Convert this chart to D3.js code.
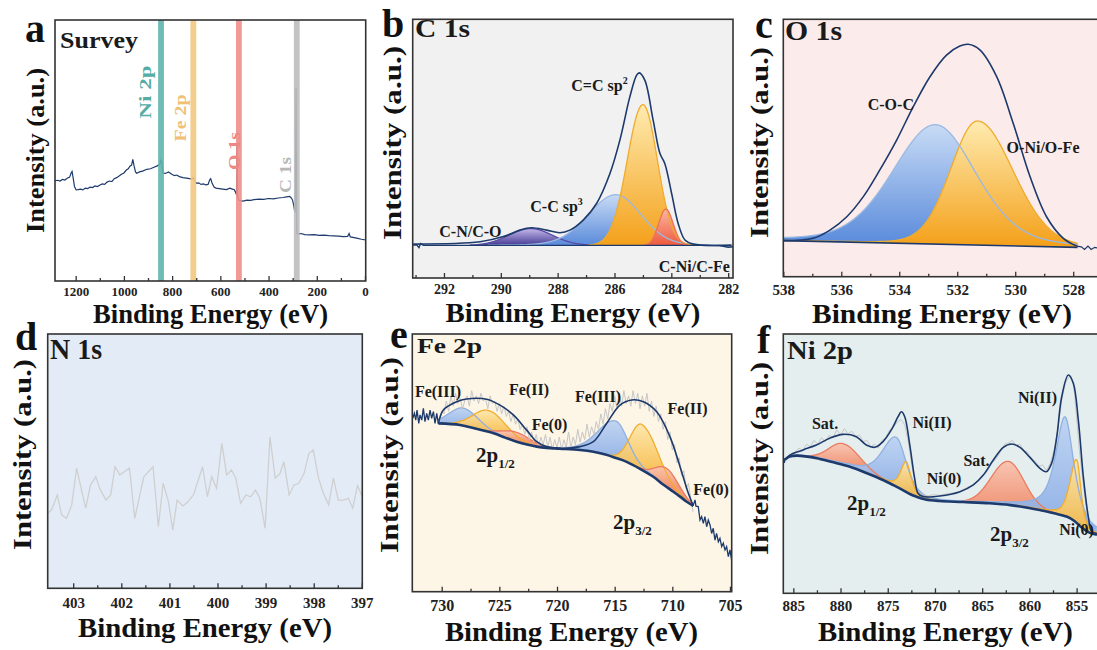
<!DOCTYPE html>
<html>
<head>
<meta charset="utf-8">
<title>XPS spectra</title>
<script src="https://cdn.jsdelivr.net/npm/d3@7/dist/d3.min.js"></script>
<style>
  html,body{margin:0;padding:0;background:#fff;}
  svg{display:block;}
</style>
</head>
<body>
<svg id="fig" width="1097" height="650"></svg>
<script>
// ---------- (a) survey spectrum: [binding energy eV, normalised intensity] ----------
const surveyTicks = [1200, 1000, 800, 600, 400, 200, 0];
const surveyMinor = [1100, 900, 700, 500, 300, 100];
const surveyScan = [
  [1286,0.384],[1275,0.386],[1265,0.383],[1255,0.389],[1245,0.387],[1235,0.394],[1225,0.398],[1219,0.414],
  [1215,0.420],[1210,0.392],[1205,0.362],[1198,0.349],[1190,0.350],[1180,0.352],[1170,0.349],[1160,0.356],
  [1150,0.354],[1140,0.360],[1130,0.358],[1120,0.364],[1110,0.362],[1099,0.368],[1090,0.372],[1080,0.370],
  [1070,0.379],[1060,0.383],[1050,0.381],[1040,0.392],[1030,0.396],[1020,0.402],[1010,0.409],[1000,0.414],
  [990,0.425],[982,0.430],[975,0.440],[968,0.444],[963,0.466],[958,0.442],[952,0.418],[947,0.413],
  [935,0.418],[920,0.422],[905,0.428],[890,0.430],[875,0.436],[862,0.441],[852,0.446],[847,0.462],
  [843,0.455],[838,0.414],[828,0.412],[815,0.418],[800,0.408],[790,0.404],[781,0.406],[770,0.400],
  [755,0.396],[740,0.394],[728,0.392],[718,0.390],[712,0.396],[706,0.382],[698,0.374],[690,0.376],
  [680,0.370],[670,0.372],[660,0.368],[651,0.370],[644,0.388],[640,0.392],[634,0.374],[626,0.360],
  [618,0.356],[605,0.354],[590,0.352],[575,0.350],[560,0.356],[550,0.352],[542,0.350],[536,0.338],
  [533,0.330],[531,0.521],[529,0.325],[525,0.312],[520,0.308],[505,0.306],[490,0.310],[475,0.309],
  [460,0.312],[440,0.314],[420,0.313],[400,0.316],[380,0.315],[360,0.318],[340,0.320],[325,0.322],
  [312,0.324],[305,0.318],[300,0.308],[296,0.292],[292,0.270],[289,0.262],[286,0.741],[283,0.184],
  [278,0.180],[265,0.182],[250,0.178],[230,0.177],[210,0.178],[190,0.175],[170,0.176],[150,0.174],
  [130,0.173],[110,0.172],[90,0.170],[72,0.171],[66,0.182],[61,0.169],[45,0.166],[30,0.163],
  [15,0.160],[-3,0.157]
];
const surveyLines = ["Ni 2p", "Fe 2p", "O 1s", "C 1s"];
const surveyLineEnergy = [846, 712, 523, 283];
const surveyLabelEnergy = [912, 767, 543, 330];
const surveyLabelLevel = [0.724, 0.625, 0.498, 0.406];

// ---------- (b) C 1s ----------
// fitted peaks: [centre eV, height, FWHM high-BE side, FWHM low-BE side, Lorentzian fraction]
const c1sTicks = [292, 290, 288, 286, 284, 282];
const c1sMinor = [293, 291, 289, 287, 285, 283];
const c1sBackground = [
  [293.1,0.127],[292.95,0.127],[292.88,0.117],[292.82,0.133],[292.72,0.126],[290,0.126],
  [286,0.126],[283,0.126],[282.3,0.125],[282.0,0.119],[281.8,0.121]
];
const c1sEnvelope = [
  [293.08,0.131],[290.73,0.140],[289.91,0.160],[289.33,0.185],[288.92,0.194],[288.39,0.185],
  [287.92,0.175],[287.57,0.185],[287.10,0.224],[286.63,0.288],[286.16,0.404],[285.81,0.533],
  [285.46,0.700],[285.22,0.784],[285.13,0.793],[284.93,0.764],[284.64,0.610],[284.40,0.481],
  [284.23,0.443],[283.99,0.327],[283.76,0.211],[283.52,0.147],[283.23,0.131],[281.88,0.127]
];
const c1sNames = ["C-N/C-O", "C-C sp^3", "C=C sp^2", "C-Ni/C-Fe"];
const c1sPeaks = [
  [288.95, 0.065, 1.8, 1.8, 0],
  [285.95, 0.196, 2.3, 2.1, 0.1],
  [285.00, 0.544, 1.3, 1.2, 0],
  [284.19, 0.140, 0.6, 0.6, 0]
];
const c1sLabelAt = [[291.07,0.158],[288.04,0.255],[286.53,0.722],[283.19,0.022]];

// ---------- (c) O 1s ----------
const o1sTicks = [538, 536, 534, 532, 530, 528];
const o1sMinor = [537, 535, 533, 531, 529];
const o1sBackground = [[538,0.140],[527.85,0.114]];
const o1sEnvelope = [
  [538.0,0.140],[536.97,0.149],[536.39,0.181],[535.81,0.233],[535.24,0.311],[534.67,0.415],
  [534.09,0.531],[533.52,0.660],[532.94,0.777],[532.37,0.861],[531.91,0.896],[531.62,0.903],
  [531.22,0.881],[530.64,0.777],[530.07,0.596],[529.49,0.389],[528.92,0.233],[528.34,0.149],
  [527.88,0.119]
];
const o1sTail = [[527.88,0.119],[527.72,0.116],[527.61,0.106],[527.49,0.119],[527.38,0.106],[527.26,0.114],[527.12,0.110]];
const o1sNames = ["C-O-C", "O-Ni/O-Fe"];
const o1sPeaks = [
  [532.75, 0.464, 3.5, 3.3, 0.25],
  [531.30, 0.482, 2.2, 2.9, 0.1]
];
const o1sLabelAt = [[534.29,0.647],[529.04,0.481]];

// ---------- (d) N 1s ----------
const n1sTicks = [403, 402, 401, 400, 399, 398, 397];
const n1sMinor = [402.5, 401.5, 400.5, 399.5, 398.5, 397.5];
const n1sScan = [
  [403.53,0.295],[403.45,0.308],[403.33,0.367],[403.24,0.288],[403.14,0.275],[403.03,0.328],
  [402.93,0.472],[402.74,0.315],[402.64,0.406],[402.53,0.439],[402.45,0.393],[402.32,0.347],
  [402.22,0.367],[402.13,0.478],[402.03,0.446],[401.83,0.472],[401.72,0.275],[401.53,0.439],
  [401.34,0.478],[401.23,0.242],[401.13,0.413],[401.02,0.341],[400.93,0.229],[400.84,0.347],
  [400.72,0.324],[400.61,0.341],[400.50,0.367],[400.31,0.478],[400.21,0.360],[400.12,0.439],
  [400.02,0.393],[399.91,0.570],[399.81,0.446],[399.71,0.465],[399.62,0.433],[399.52,0.334],
  [399.41,0.367],[399.31,0.360],[399.21,0.387],[399.12,0.354],[399.01,0.236],[398.91,0.596],
  [398.80,0.433],[398.70,0.452],[398.62,0.498],[398.51,0.367],[398.41,0.406],[398.31,0.413],
  [398.20,0.452],[398.10,0.531],[398.01,0.544],[397.90,0.433],[397.80,0.374],[397.69,0.328],
  [397.59,0.433],[397.49,0.347],[397.38,0.347],[397.28,0.354],[397.19,0.315],[397.09,0.404],
  [396.99,0.360]
];

// ---------- (e) Fe 2p ----------
const fe2pTicks = [730, 725, 720, 715, 710, 705];
const fe2pMinor = [727.5, 722.5, 717.5, 712.5, 707.5];
const fe2pBackground = [
  [730.29,0.653],[728.4,0.647],[727.0,0.632],[725.5,0.615],[724.5,0.598],[723.5,0.582],
  [722.5,0.570],[721.76,0.563],[720.9,0.558],[719.74,0.555],[718.0,0.550],[716.85,0.543],
  [715.8,0.532],[714.9,0.519],[713.96,0.504],[712.8,0.477],[711.65,0.446],[710.8,0.416],
  [709.91,0.388],[709.3,0.368],[708.75,0.349],[708.18,0.333]
];
const fe2pEnvelope = [
  [730.29,0.653],[729.86,0.705],[729.0,0.731],[728.2,0.745],[727.4,0.750],[726.1,0.747],
  [724.94,0.724],[723.79,0.686],[722.63,0.627],[721.76,0.582],[720.9,0.563],[719.74,0.556],
  [718.0,0.563],[716.85,0.582],[715.7,0.653],[714.54,0.724],[713.52,0.744],[712.51,0.737],
  [711.35,0.698],[710.2,0.601],[709.33,0.485],[708.61,0.382],[708.18,0.333]
];
const fe2pRaw = [
  [730.2,0.66],[730.0,0.70],[729.8,0.69],[729.6,0.74],[729.4,0.70],[729.2,0.76],[729.0,0.72],[728.8,0.77],
  [728.6,0.73],[728.4,0.75],[728.2,0.71],[728.0,0.74],[727.8,0.76],[727.6,0.72],[727.4,0.78],[727.2,0.74],
  [727.0,0.76],[726.8,0.73],[726.6,0.77],[726.4,0.74],[726.2,0.75],[726.0,0.71],[725.8,0.76],[725.6,0.73],
  [725.4,0.74],[725.2,0.70],[725.0,0.73],[724.8,0.69],[724.6,0.72],[724.4,0.68],[724.2,0.70],[724.0,0.66],
  [723.8,0.69],[723.6,0.65],[723.4,0.67],[723.2,0.63],[723.0,0.65],[722.8,0.61],[722.6,0.64],[722.4,0.59],
  [722.2,0.62],[722.0,0.58],[721.8,0.61],[721.6,0.56],[721.4,0.60],[721.2,0.57],[721.0,0.61],[720.8,0.56],
  [720.6,0.60],[720.4,0.55],[720.2,0.59],[720.0,0.56],[719.8,0.60],[719.6,0.55],[719.4,0.59],[719.2,0.56],
  [719.0,0.62],[718.8,0.56],[718.6,0.60],[718.4,0.57],[718.2,0.63],[718.0,0.58],[717.8,0.62],[717.6,0.59],
  [717.4,0.65],[717.2,0.60],[717.0,0.64],[716.8,0.61],[716.6,0.66],[716.4,0.63],[716.2,0.69],[716.0,0.65],
  [715.8,0.71],[715.6,0.67],[715.4,0.73],[715.2,0.70],[715.0,0.76],[714.8,0.71],[714.6,0.77],[714.4,0.72],
  [714.2,0.78],[714.0,0.73],[713.8,0.76],[713.6,0.72],[713.4,0.78],[713.2,0.73],[713.0,0.77],[712.8,0.71],
  [712.6,0.76],[712.4,0.72],[712.2,0.77],[712.0,0.70],[711.8,0.74],[711.6,0.68],[711.4,0.72],[711.2,0.66],
  [711.0,0.69],[710.8,0.63],[710.6,0.66],[710.4,0.59],[710.2,0.62],[710.0,0.55],[709.8,0.57],[709.6,0.50],
  [709.4,0.52],[709.2,0.45],[709.0,0.47],[708.8,0.40],[708.6,0.42],[708.4,0.36],[708.2,0.31]
];
const fe2pScanHigh = [
  [732.51,0.673],[732.37,0.692],[732.25,0.666],[732.14,0.705],[731.99,0.653],[731.88,0.686],
  [731.73,0.666],[731.59,0.712],[731.45,0.660],[731.30,0.692],[731.16,0.666],[731.01,0.705],
  [730.87,0.673],[730.72,0.699],[730.58,0.653],[730.43,0.692],[730.29,0.651]
];
const fe2pScanLow = [
  [708.18,0.336],[708.03,0.356],[707.95,0.332],[707.75,0.330],[707.60,0.278],[707.46,0.291],
  [707.31,0.265],[707.17,0.291],[707.02,0.252],[706.88,0.278],[706.73,0.259],[706.59,0.226],
  [706.45,0.246],[706.30,0.200],[706.16,0.226],[706.01,0.194],[705.87,0.207],[705.72,0.175],
  [705.58,0.188],[705.43,0.162],[705.29,0.175],[705.14,0.136],[705.00,0.162],[704.86,0.123]
];
const fe2pNames = ["Fe(III)", "Fe(II)", "Fe(0)", "Fe(III)", "Fe(II)", "Fe(0)"];
const fe2pPeaks = [
  [728.10, 0.068, 3.0, 3.0, 0],
  [725.96, 0.083, 3.1, 3.6, 0],
  [723.55, 0.036, 2.8, 3.0, 0],
  [714.88, 0.143, 3.6, 2.4, 0.2],
  [712.65, 0.176, 2.3, 3.3, 0],
  [710.49, 0.072, 2.2, 2.4, 0]
];
const fe2pLabelAt = [[730.32,0.756],[722.43,0.763],[720.65,0.627],[716.44,0.736],[708.68,0.690],[706.64,0.375]];
const fe2pLevels = ["2p_1/2", "2p_3/2"];
const fe2pLevelAt = [[727.03,0.503],[715.14,0.244]];

// ---------- (f) Ni 2p ----------
const ni2pTicks = [885, 880, 875, 870, 865, 860, 855];
const ni2pMinor = [882.5, 877.5, 872.5, 867.5, 862.5, 857.5, 852.5];
const ni2pBackground = [
  [885.9,0.515],[885.4,0.527],[884.6,0.531],[883.5,0.527],[882.5,0.521],[881.0,0.507],[879.0,0.488],
  [877.2,0.463],[875.5,0.437],[874.4,0.417],[873.4,0.398],[872.6,0.382],[872.0,0.373],[871.0,0.362],
  [869.5,0.356],[867.0,0.352],[864.2,0.347],[862.0,0.340],[860.5,0.332],[858.9,0.321],[857.5,0.310],
  [856.0,0.295],[855.2,0.278],[854.6,0.258],[853.6,0.233],[852.85,0.226]
];
const ni2pEnvelope = [
  [885.9,0.515],[885.38,0.533],[883.97,0.553],[882.56,0.572],[881.15,0.598],[879.74,0.613],[878.33,0.604],
  [877.27,0.572],[876.38,0.563],[875.5,0.585],[874.62,0.630],[873.91,0.681],[873.56,0.700],[873.2,0.681],
  [872.67,0.572],[872.15,0.443],[871.8,0.386],[871.27,0.373],[869.47,0.375],[867.35,0.392],[865.94,0.418],
  [864.88,0.456],[863.82,0.514],[862.76,0.563],[861.9,0.576],[861.0,0.563],[859.94,0.524],[858.88,0.482],
  [858.2,0.469],[857.65,0.501],[857.1,0.604],[856.58,0.758],[855.88,0.842],[855.35,0.810],[854.82,0.668],
  [854.29,0.450],[853.76,0.295],[853.4,0.238],[852.85,0.230]
];
const ni2pRaw = [
  [885.6,0.52],[885.2,0.54],[884.8,0.545],[884.4,0.56],[884.0,0.55],[883.6,0.575],[883.2,0.565],[882.8,0.59],
  [882.4,0.575],[882.0,0.60],[881.6,0.585],[881.2,0.61],[880.8,0.60],[880.4,0.63],[880.0,0.61],[879.6,0.635],
  [879.2,0.615],[878.8,0.625],[878.4,0.605],[878.0,0.61],[877.6,0.585],[877.2,0.59],[876.8,0.565],[876.4,0.575],
  [876.0,0.56],[875.6,0.59],[875.2,0.60],[874.8,0.63],[874.4,0.64],[874.0,0.66],[873.6,0.67],[873.2,0.65],
  [872.8,0.58],[872.4,0.48],[872.0,0.41],[871.6,0.385],[871.2,0.38],[870.8,0.375],[870.2,0.38],[869.5,0.378],
  [868.5,0.385],[867.5,0.39],[866.5,0.41],[866.0,0.415],[865.5,0.43],[865.0,0.45],[864.5,0.47],[864.0,0.50],
  [863.5,0.52],[863.0,0.55],[862.6,0.575],[862.2,0.58],[861.8,0.59],[861.4,0.57],[861.0,0.575],[860.6,0.55],
  [860.2,0.545],[859.8,0.52],[859.4,0.51],[859.0,0.49],[858.6,0.495],[858.2,0.475],[857.8,0.50],[857.4,0.55],
  [857.0,0.63],[856.6,0.74],[856.2,0.81],[855.9,0.83],[855.6,0.84],[855.3,0.80],[855.0,0.68],[854.7,0.55],
  [854.4,0.45],[854.1,0.36],[853.8,0.29],[853.4,0.24],[853.0,0.23]
];
const ni2pScanHigh = [[886.06,0.508],[886.0,0.522],[885.95,0.503],[885.9,0.515]];
const ni2pNames = ["Sat.", "Ni(II)", "Ni(0)", "Sat.", "Ni(II)", "Ni(0)"];
const ni2pPeaks = [
  [879.74, 0.082, 3.5, 4.3, 0],
  [874.09, 0.190, 3.45, 2.5, 0.5],
  [873.04, 0.116, 1.4, 1.2, 0.6],
  [862.24, 0.168, 4.2, 3.9, 0],
  [856.23, 0.383, 2.4, 2.2, 0.8],
  [854.99, 0.244, 1.65, 1.05, 0.5]
];
const ni2pLabelAt = [[881.64,0.634],[870.31,0.637],[869.04,0.422],[865.6,0.491],[859.14,0.734],[855.01,0.225]];
const ni2pLevels = ["2p_1/2", "2p_3/2"];
const ni2pLevelAt = [[879.31,0.321],[864.17,0.202]];

// ====================================================================
const SERIF = "'Liberation Serif','Times New Roman',Times,serif";
const svg = d3.select("#fig");
const defs = svg.append("defs");

const frames = {
  a: {left: 55,    right: 365.7, top: 20,   bottom: 281},
  b: {left: 412.7, right: 733,   top: 19.3, bottom: 278},
  c: {left: 783.3, right: 1099,  top: 19.3, bottom: 276.7},
  d: {left: 47.7,  right: 362.3, top: 334,  bottom: 588.3},
  e: {left: 412.3, right: 731.7, top: 334,  bottom: 591.7},
  f: {left: 783.3, right: 1099,  top: 334,  bottom: 593.3}
};
const panelFill = {a: "#ffffff", b: "#f1f1f1", c: "#fcebeb", d: "#e3ecf6", e: "#fdf5e6", f: "#e4eeef"};

const tones = {
  purple: {top: "#c4b9e9", bottom: "#463a95", line: "#5a4ca6"},
  blue:   {top: "#c8dbf5", bottom: "#5a8bdb", line: "#9ab9e3"},
  orange: {top: "#feebb0", bottom: "#f4a11b", line: "#efab2c"},
  red:    {top: "#fbb7a2", bottom: "#ee5a3e", line: "#ed7357"},
  sblue:  {top: "#bcd2f3", bottom: "#8eb0e6", line: "#8fb0e0"},
  sorange:{top: "#fde6a8", bottom: "#f8be4e", line: "#f1ad2f"},
  sred:   {top: "#f9c1ad", bottom: "#f2906f", line: "#ec7b60"}
};

function pseudoVoigt(e, pk) {
  const [c, h, wHigh, wLow, eta] = pk;
  const w = e >= c ? wHigh : wLow;
  const t = 4 * (e - c) * (e - c) / (w * w);
  return h * ((1 - eta) * Math.exp(-Math.LN2 * t) + eta / (1 + t));
}

function makePanel(key, domain) {
  const f = frames[key];
  const x = d3.scaleLinear().domain(domain).range([f.left, f.right]);
  const y = d3.scaleLinear().domain([0, 1]).range([f.bottom, f.top]);
  const g = svg.append("g").attr("class", "panel-" + key);
  defs.append("clipPath").attr("id", "clip-" + key).append("rect")
    .attr("x", f.left).attr("y", f.top).attr("width", f.right - f.left).attr("height", f.bottom - f.top);
  g.append("rect").attr("x", f.left).attr("y", f.top)
    .attr("width", f.right - f.left).attr("height", f.bottom - f.top).attr("fill", panelFill[key]);
  const plot = g.append("g").attr("clip-path", `url(#clip-${key})`);
  const line = d3.line().x(d => x(d[0])).y(d => y(d[1]));
  return {key, f, x, y, g, plot, line};
}

function finishPanel(p, major, minor, fontSize, pad) {
  const f = p.f;
  p.g.append("rect").attr("x", f.left).attr("y", f.top)
    .attr("width", f.right - f.left).attr("height", f.bottom - f.top)
    .attr("fill", "none").attr("stroke", "#333").attr("stroke-width", 1.6);
  const minorAxis = p.g.append("g").attr("transform", `translate(0,${f.bottom})`)
    .call(d3.axisBottom(p.x).tickValues(minor).tickSize(-3).tickFormat(""));
  minorAxis.select(".domain").remove();
  minorAxis.selectAll("text").remove();
  const majorAxis = p.g.append("g").attr("transform", `translate(0,${f.bottom})`)
    .call(d3.axisBottom(p.x).tickValues(major).tickSize(-5).tickPadding(pad).tickFormat(d3.format("d")));
  majorAxis.select(".domain").remove();
  majorAxis.attr("font-family", SERIF).attr("font-size", fontSize).attr("font-weight", "bold");
  majorAxis.selectAll("text").attr("fill", "#222");
  p.g.selectAll(".tick line").attr("stroke", "#333").attr("stroke-width", 1.3);
}

function richText(sel, str, size) {
  const m = str.match(/^(.*?)([\^_])(.*)$/);
  if (!m) { sel.text(str); return; }
  sel.append("tspan").text(m[1]);
  sel.append("tspan").attr("font-size", size * 0.62)
    .attr("dy", m[2] === "^" ? -size * 0.42 : size * 0.28).text(m[3]);
}

function addLabels(p, names, at, size, anchor) {
  names.forEach((n, i) => {
    const t = p.g.append("text").attr("x", p.x(at[i][0])).attr("y", p.y(at[i][1]))
      .attr("text-anchor", anchor).attr("font-family", SERIF).attr("font-weight", "bold")
      .attr("font-size", size).attr("fill", "#1a1a1a");
    richText(t, n, size);
  });
}

function drawFit(p, background, peaks, toneNames, step, opacity) {
  const bgAt = d3.scaleLinear().domain(background.map(d => d[0])).range(background.map(d => d[1]));
  const hi = d3.max(background, d => d[0]), lo = d3.min(background, d => d[0]);
  const grid = d3.range(hi, lo - 1e-9, -step);
  const parts = peaks.map((pk, i) => {
    const pts = grid.map(e => ({e, base: bgAt(e), v: pseudoVoigt(e, pk)})).filter(d => d.v > 0.0012);
    const tone = tones[toneNames[i]];
    const gid = `fit-${p.key}-${i}`;
    const gr = defs.append("linearGradient").attr("id", gid).attr("gradientUnits", "userSpaceOnUse")
      .attr("x1", 0).attr("x2", 0)
      .attr("y1", p.y(bgAt(pk[0]) + pk[1])).attr("y2", p.y(bgAt(pk[0])));
    gr.append("stop").attr("offset", "0%").attr("stop-color", tone.top);
    gr.append("stop").attr("offset", "100%").attr("stop-color", tone.bottom);
    return {pts, tone, gid};
  });
  const area = d3.area().x(d => p.x(d.e)).y0(d => p.y(d.base)).y1(d => p.y(d.base + d.v));
  const top = d3.line().x(d => p.x(d.e)).y(d => p.y(d.base + d.v));
  parts.forEach(c => {
    p.plot.append("path").attr("d", area(c.pts)).attr("fill", `url(#${c.gid})`).attr("fill-opacity", opacity);
  });
  parts.forEach(c => {
    p.plot.append("path").attr("d", top(c.pts)).attr("fill", "none")
      .attr("stroke", c.tone.line).attr("stroke-width", 1.3);
  });
}

function axisTitles(p, cfg) {
  p.g.append("text").attr("x", cfg.xc).attr("y", cfg.xb).attr("text-anchor", "middle")
    .attr("font-family", SERIF).attr("font-weight", "bold").attr("font-size", 27)
    .attr("textLength", cfg.xl).attr("lengthAdjust", "spacingAndGlyphs").attr("fill", "#111")
    .text("Binding Energy (eV)");
  p.g.append("text").attr("transform", `translate(${cfg.yb},${cfg.yc}) rotate(-90)`)
    .attr("text-anchor", "middle").attr("font-family", SERIF).attr("font-weight", "bold")
    .attr("font-size", 26).attr("textLength", cfg.yl).attr("lengthAdjust", "spacingAndGlyphs")
    .attr("fill", "#111").text("Intensity (a.u.)");
  p.g.append("text").attr("x", cfg.lx).attr("y", cfg.ly).attr("font-family", SERIF)
    .attr("font-weight", "bold").attr("font-size", 40).attr("fill", "#111").text(cfg.letter);
  p.g.append("text").attr("x", cfg.tx).attr("y", cfg.ty).attr("font-family", SERIF)
    .attr("font-weight", "bold").attr("font-size", cfg.ts).attr("textLength", cfg.tl)
    .attr("lengthAdjust", "spacingAndGlyphs").attr("fill", "#1a1a1a").text(cfg.title);
}

const NAVY = "#1d3a6c";

// ---------- (a) ----------
{
  const p = makePanel("a", [1285.8, -2.9]);
  p.plot.append("path").attr("d", p.line(surveyScan)).attr("fill", "none")
    .attr("stroke", NAVY).attr("stroke-width", 1.2);
  const bandColors = ["#5fb4ad", "#f3c67e", "#ef8e8a", "#bdbdbd"];
  const textColors = ["#56aca5", "#f0c074", "#ec8984", "#b8b8b8"];
  const textLen = [53, 47, 38, 36];
  surveyLines.forEach((n, i) => {
    p.plot.append("rect").attr("x", p.x(surveyLineEnergy[i]) - 2.9).attr("y", p.f.top)
      .attr("width", 5.8).attr("height", p.f.bottom - p.f.top)
      .attr("fill", bandColors[i]).attr("fill-opacity", 0.9);
    p.g.append("text")
      .attr("transform", `translate(${p.x(surveyLabelEnergy[i])},${p.y(surveyLabelLevel[i])}) rotate(-90)`)
      .attr("text-anchor", "middle").attr("dy", "0.35em").attr("font-family", SERIF)
      .attr("font-weight", "bold").attr("font-size", 17).attr("textLength", textLen[i])
      .attr("lengthAdjust", "spacingAndGlyphs").attr("fill", textColors[i]).text(n);
  });
  finishPanel(p, surveyTicks, surveyMinor, 13, 5.8);
  axisTitles(p, {xc: 210.5, xb: 323, xl: 235, yb: 44, yc: 150.5, yl: 165,
    letter: "a", lx: 25, ly: 42, title: "Survey", tx: 60, ty: 48, ts: 24, tl: 78});
}

// ---------- (b) ----------
{
  const p = makePanel("b", [293.1, 281.83]);
  drawFit(p, c1sBackground, c1sPeaks, ["purple", "blue", "orange", "red"], 0.01, 1);
  p.plot.append("path").attr("d", p.line(c1sBackground)).attr("fill", "none")
    .attr("stroke", NAVY).attr("stroke-width", 1.4);
  p.plot.append("path").attr("d", p.line.curve(d3.curveCatmullRom.alpha(0.5))(c1sEnvelope))
    .attr("fill", "none").attr("stroke", NAVY).attr("stroke-width", 1.6);
  p.line.curve(d3.curveLinear);
  addLabels(p, c1sNames, c1sLabelAt, 16, "middle");
  finishPanel(p, c1sTicks, c1sMinor, 14, 6.1);
  axisTitles(p, {xc: 573, xb: 322, xl: 255, yb: 401, yc: 143, yl: 194,
    letter: "b", lx: 382, ly: 37, title: "C 1s", tx: 415, ty: 37, ts: 26, tl: 55});
}

// ---------- (c) ----------
{
  const p = makePanel("c", [538, 527.11]);
  drawFit(p, o1sBackground, o1sPeaks, ["blue", "orange"], 0.01, 1);
  p.plot.append("path").attr("d", p.line(o1sBackground)).attr("fill", "none")
    .attr("stroke", NAVY).attr("stroke-width", 1.6);
  p.plot.append("path").attr("d", p.line(o1sTail)).attr("fill", "none")
    .attr("stroke", NAVY).attr("stroke-width", 1.2);
  p.plot.append("path").attr("d", p.line.curve(d3.curveCatmullRom.alpha(0.5))(o1sEnvelope))
    .attr("fill", "none").attr("stroke", NAVY).attr("stroke-width", 1.6);
  p.line.curve(d3.curveLinear);
  addLabels(p, o1sNames, o1sLabelAt, 16, "middle");
  finishPanel(p, o1sTicks, o1sMinor, 15, 7.6);
  axisTitles(p, {xc: 942, xb: 323, xl: 260, yb: 768, yc: 142.5, yl: 191,
    letter: "c", lx: 755, ly: 38, title: "O 1s", tx: 785, ty: 40, ts: 27, tl: 57});
}

// ---------- (d) ----------
{
  const p = makePanel("d", [403.53, 396.99]);
  p.plot.append("path").attr("d", p.line(n1sScan)).attr("fill", "none")
    .attr("stroke", "#cfcfcf").attr("stroke-width", 1.3);
  finishPanel(p, n1sTicks, n1sMinor, 15, 9);
  axisTitles(p, {xc: 205, xb: 637, xl: 254, yb: 31, yc: 454.5, yl: 191,
    letter: "d", lx: 15, ly: 350, title: "N 1s", tx: 50, ty: 359, ts: 30, tl: 52});
}

// ---------- (e) ----------
{
  const p = makePanel("e", [732.55, 704.85]);
  drawFit(p, fe2pBackground, fe2pPeaks, ["sblue", "sorange", "sred", "sblue", "sorange", "sred"], 0.02, 0.92);
  p.plot.append("path").attr("d", p.line(fe2pRaw)).attr("fill", "none")
    .attr("stroke", "#c6c6c6").attr("stroke-width", 1);
  p.plot.append("path").attr("d", p.line(fe2pScanHigh)).attr("fill", "none")
    .attr("stroke", NAVY).attr("stroke-width", 1.3);
  p.plot.append("path").attr("d", p.line(fe2pScanLow)).attr("fill", "none")
    .attr("stroke", NAVY).attr("stroke-width", 1.3);
  p.plot.append("path").attr("d", p.line.curve(d3.curveCatmullRom.alpha(0.5))(fe2pBackground))
    .attr("fill", "none").attr("stroke", NAVY).attr("stroke-width", 2.6);
  p.plot.append("path").attr("d", p.line(fe2pEnvelope))
    .attr("fill", "none").attr("stroke", NAVY).attr("stroke-width", 1.6);
  p.line.curve(d3.curveLinear);
  addLabels(p, fe2pNames, fe2pLabelAt, 16, "middle");
  addLabels(p, fe2pLevels, fe2pLevelAt, 21, "start");
  finishPanel(p, fe2pTicks, fe2pMinor, 16, 7.9);
  axisTitles(p, {xc: 571.5, xb: 641, xl: 253, yb: 398, yc: 455, yl: 196,
    letter: "e", lx: 390, ly: 348, title: "Fe 2p", tx: 417, ty: 353, ts: 22, tl: 65});
}

// ---------- (f) ----------
{
  const p = makePanel("f", [886.06, 852.63]);
  drawFit(p, ni2pBackground, ni2pPeaks, ["sred", "sblue", "sorange", "sred", "sblue", "sorange"], 0.02, 0.92);
  p.plot.append("path").attr("d", p.line(ni2pRaw)).attr("fill", "none")
    .attr("stroke", "#c6c6c6").attr("stroke-width", 1);
  p.plot.append("path").attr("d", p.line(ni2pScanHigh)).attr("fill", "none")
    .attr("stroke", NAVY).attr("stroke-width", 1.3);
  p.plot.append("path").attr("d", p.line.curve(d3.curveCatmullRom.alpha(0.5))(ni2pBackground))
    .attr("fill", "none").attr("stroke", NAVY).attr("stroke-width", 2.6);
  p.plot.append("path").attr("d", p.line(ni2pEnvelope))
    .attr("fill", "none").attr("stroke", NAVY).attr("stroke-width", 1.6);
  p.line.curve(d3.curveLinear);
  addLabels(p, ni2pNames, ni2pLabelAt, 16, "middle");
  addLabels(p, ni2pLevels, ni2pLevelAt, 21, "start");
  finishPanel(p, ni2pTicks, ni2pMinor, 15, 7);
  axisTitles(p, {xc: 945.5, xb: 641, xl: 255, yb: 768, yc: 458.5, yl: 193,
    letter: "f", lx: 757, ly: 353, title: "Ni 2p", tx: 787, ty: 359, ts: 25, tl: 66});
}
</script>
</body>
</html>
